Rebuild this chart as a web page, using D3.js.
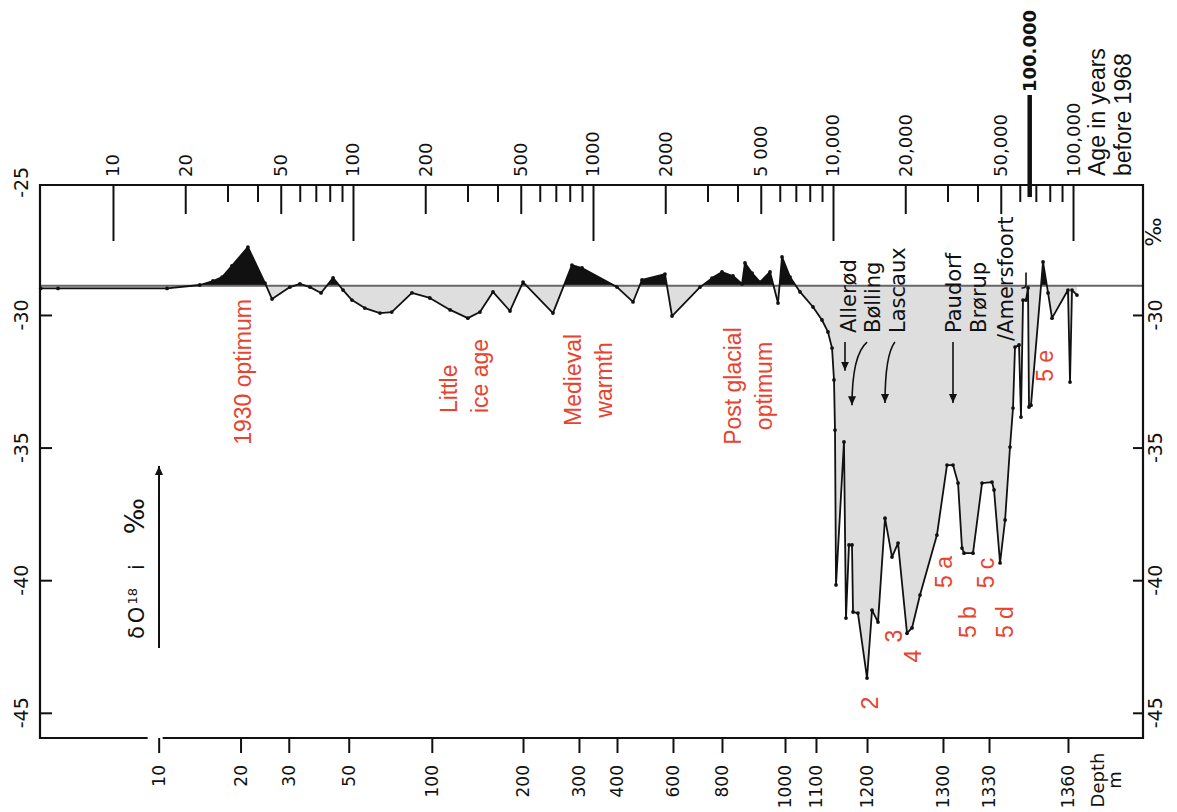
<!DOCTYPE html>
<html><head><meta charset="utf-8">
<script src="https://cdn.jsdelivr.net/npm/d3@7"></script>
<style>body{margin:0;background:#fff}svg{display:block}</style>
</head><body>
<svg id="c" width="1177" height="812"></svg>
<script>
// ---- data (age in years before 1968, delta O18 per mil) ----
const ages = [5.0,5.9,16.8,23.0,26.1,28.5,31.3,36.5,43.0,46.0,54.6,60.1,66.2,73.6,82.6,90.9,99.0,112,129.6,145,176,209,254,301,338,383,451,511,681,817,900,1259,1468,1600,1995,2134,2793,3133,3447,3831,4178,4297,4598,4966,5464,5900,6131,6622,7288,8254,8995,9528,9908,10096,10193,10292,11110,11325,11660,12000,12115,12700,13860,14540,15400,16470,17610,18660,20340,21340,23040,27100,29850,31620,33190,34470,35160,38310,41780,45960,46880,49660,52120,54640,56230,57320,59570,60700,61900,63680,64940,65560,66830,74990,78700,81750,95280,97160,99040,103900];
const d18O = [-29.0,-29.0,-29.0,-28.87,-28.72,-28.57,-28.15,-27.44,-28.8,-29.40,-28.95,-28.83,-28.95,-29.17,-28.6,-29.06,-29.44,-29.74,-29.93,-29.89,-29.17,-29.36,-29.81,-30.12,-29.89,-29.13,-29.85,-28.76,-29.93,-28.12,-28.23,-28.95,-29.51,-28.68,-28.46,-30.04,-28.95,-28.61,-28.38,-28.53,-28.83,-28.04,-28.42,-28.76,-28.38,-29.55,-27.81,-28.57,-29.13,-29.70,-30.19,-30.64,-31.25,-32.45,-34.34,-40.18,-34.79,-41.43,-38.67,-38.67,-41.20,-41.24,-43.69,-41.13,-41.58,-37.66,-39.13,-38.6,-42.0,-41.8,-40.56,-38.3,-35.66,-35.66,-36.34,-38.79,-38.98,-38.98,-36.34,-36.30,-36.6,-39.35,-37.73,-34.98,-33.51,-31.21,-31.13,-33.85,-29.44,-29.44,-28.98,-33.47,-33.4,-28.0,-29.17,-30.12,-29.06,-32.53,-29.06,-29.25];
const baselineValue = -28.9;

// ---- axes ----
const ageDecades = [10,100,1000,10000];
const ageMajorTicks = [10,100,1000,10000,100000];
const ageTickValues = [10,20,50,100,200,500,1000,2000,5000,10000,20000,50000,100000];
const ageTickText = ["10","20","50","100","200","500","1000","2000","5 000","10,000","20,000","50,000","100,000"];
const depthTicks = [10,20,30,50,100,200,300,400,600,800,1000,1100,1200,1300,1330,1360];
const depthAges = [15.5,34,54,96,213,511,874,1259,2154,3447,6310,8492,13860,28720,44670,95280];
const leftValueTicks = [-25,-30,-35,-40,-45];
const rightValueTicks = [-30,-35,-40,-45];

// ---- annotations ----
const redLabels = [
  {lines:["1930 optimum"], age:34.8, v:-32.15, anchor:"middle"},
  {lines:["Little","ice age"], age:290, v:-33.7, anchor:"start"},
  {lines:["Medieval","warmth"], age:953, v:-32.45, anchor:"middle"},
  {lines:["Post glacial","optimum"], age:4426, v:-32.68, anchor:"middle"},
  {lines:["2"], age:14260, v:-44.63, anchor:"middle"},
  {lines:["3"], age:17950, v:-42.11, anchor:"middle"},
  {lines:["4"], age:21540, v:-42.86, anchor:"middle"},
  {lines:["5 a"], age:29010, v:-39.69, anchor:"middle"},
  {lines:["5 b"], age:36520, v:-41.58, anchor:"middle"},
  {lines:["5 c"], age:43410, v:-39.73, anchor:"middle"},
  {lines:["5 d"], age:52120, v:-41.58, anchor:"middle"},
  {lines:["5 e"], age:76380, v:-31.92, anchor:"middle"}
];
const stageNames = ["Allerød","Bølling","Lascaux","Paudorf","Brørup","/Amersfoort"];
const stageAges = [11550,14540,18490,31620,40180,52120];
const stageBottom = [-30.68,-30.68,-30.68,-30.68,-30.68,-30.98];

const L=40,R=1143,T=185,B=738;
const x=d3.scaleLog().domain([4.965,195700]).range([L,R]);
const y=d3.scaleLinear().domain([-25.1,-45.95]).range([T,B]);
const svg=d3.select('#c');
const data=ages.map((a,i)=>({a,v:d18O[i]}));
const yb=y(baselineValue);

const defs=svg.append('defs');
defs.append('clipPath').attr('id','above').append('rect').attr('x',L).attr('y',T).attr('width',R-L).attr('height',yb-T);
defs.append('clipPath').attr('id','below').append('rect').attr('x',L).attr('y',yb).attr('width',R-L).attr('height',B-yb);
defs.append('marker').attr('id','ah').attr('markerUnits','userSpaceOnUse').attr('markerWidth',10).attr('markerHeight',10)
  .attr('refX',9).attr('refY',4).attr('orient','auto')
  .append('path').attr('d','M0,0 L9,4 L0,8 Z').attr('fill','#111');

const area=d3.area().x(d=>x(d.a)).y0(yb).y1(d=>y(d.v));
svg.append('path').datum(data).attr('d',area).attr('fill','#111').attr('clip-path','url(#above)');
svg.append('path').datum(data).attr('d',area).attr('fill','#dedede').attr('clip-path','url(#below)');

svg.append('line').attr('x1',L).attr('x2',R).attr('y1',yb).attr('y2',yb).attr('stroke','#666').attr('stroke-width',2);

const line=d3.line().x(d=>x(d.a)).y(d=>y(d.v));
svg.append('path').datum(data).attr('d',line).attr('fill','none').attr('stroke','#111').attr('stroke-width',1.8).attr('stroke-linejoin','round');
svg.append('g').selectAll('circle').data(data).join('circle').attr('cx',d=>x(d.a)).attr('cy',d=>y(d.v)).attr('r',1.9).attr('fill','#111');

// frame (bottom line broken near depth 10)
const gapA=x(depthAges[0])-11, gapB=x(depthAges[0])+4;
svg.append('path').attr('d',`M${gapB},${B} H${R} V${T} H${L} V${B} H${gapA}`).attr('fill','none').attr('stroke','#111').attr('stroke-width',2.2);

// top age axis ticks (inside)
const midTicks=ageDecades.flatMap(d=>[2*d,5*d]);
const minorTicks=ageDecades.flatMap(d=>[3,4,6,7,8,9].map(m=>m*d));
function topTicks(vals,len){
  const g=svg.append('g').attr('transform',`translate(0,${T})`).call(d3.axisTop(x).tickValues(vals).tickSize(-len).tickFormat(''));
  g.select('.domain').remove();
  g.selectAll('line').attr('stroke','#111').attr('stroke-width',2);
}
topTicks(ageMajorTicks,56);topTicks(midTicks,29);topTicks(minorTicks,17);
const numFont='DejaVu Sans';
svg.append('g').selectAll('text').data(ageTickValues).join('text')
  .attr('transform',d=>`translate(${x(d)},177) rotate(-90)`).attr('dy','0.36em')
  .attr('font-family',numFont).attr('font-size',18).attr('fill','#111').attr('text-anchor','start')
  .text((d,i)=>ageTickText[i]);

// bold 100.000 mark
svg.append('line').attr('x1',x(66000)).attr('x2',x(66000)).attr('y1',95).attr('y2',T+12).attr('stroke','#111').attr('stroke-width',4.5);
svg.append('text').attr('transform',`translate(${x(66000)},92) rotate(-90)`).attr('dy','0.36em')
  .attr('font-family',numFont).attr('font-weight','bold').attr('font-size',18).attr('fill','#111').text('100.000');
const ageTitle=svg.append('text').attr('font-family','Liberation Sans, Arial').attr('font-size',23).attr('fill','#111');
ageTitle.append('tspan').attr('x',0).attr('y',0).text('Age in years');
ageTitle.append('tspan').attr('x',0).attr('y',26).text('before 1968');
ageTitle.attr('transform','translate(1105,176) rotate(-90)');

// bottom depth axis
const gb=svg.append('g').attr('transform',`translate(0,${B})`).call(d3.axisBottom(x).tickValues(depthAges).tickSize(15).tickFormat(''));
gb.select('.domain').remove();
gb.selectAll('line').attr('stroke','#111').attr('stroke-width',2);
svg.append('g').selectAll('text').data(depthAges).join('text')
  .attr('transform',d=>`translate(${x(d)},765) rotate(-90)`).attr('dy','0.36em')
  .attr('font-family',numFont).attr('font-size',17).attr('fill','#111').attr('text-anchor','end')
  .text((d,i)=>depthTicks[i]);
const depthTitle=svg.append('text').attr('font-family',numFont).attr('font-size',18).attr('fill','#111').attr('text-anchor','middle')
  .attr('transform','translate(1104,780) rotate(-90)');
depthTitle.append('tspan').attr('x',0).attr('y',0).text('Depth');
depthTitle.append('tspan').attr('x',0).attr('y',17).text('m');

// left & right value axes
const gl=svg.append('g').attr('transform',`translate(${L},0)`).call(d3.axisRight(y).tickValues(rightValueTicks).tickSize(12).tickFormat(''));
gl.select('.domain').remove();gl.selectAll('line').attr('stroke','#111').attr('stroke-width',2);
const gr=svg.append('g').attr('transform',`translate(${R},0)`).call(d3.axisLeft(y).tickValues(rightValueTicks).tickSize(10).tickFormat(''));
gr.select('.domain').remove();gr.selectAll('line').attr('stroke','#111').attr('stroke-width',2);
svg.append('g').selectAll('text').data(leftValueTicks).join('text')
  .attr('transform',d=>`translate(21,${y(d)}) rotate(-90)`).attr('dy','0.36em').attr('text-anchor','middle')
  .attr('font-family',numFont).attr('font-size',19).attr('fill','#111').text(d=>d);
svg.append('g').selectAll('text').data(rightValueTicks).join('text')
  .attr('transform',d=>`translate(1155,${y(d)}) rotate(-90)`).attr('dy','0.36em').attr('text-anchor','middle')
  .attr('font-family',numFont).attr('font-size',19).attr('fill','#111').text(d=>d);
svg.append('text').attr('transform','translate(1153,232) rotate(-90)').attr('dy','0.36em').attr('text-anchor','middle')
  .attr('font-family',numFont).attr('font-size',22).attr('fill','#111').text('‰');

// delta O18 label and arrow
const dl=svg.append('text').attr('transform','translate(136,639) rotate(-90)').attr('dy','0.36em')
  .attr('font-family',numFont).attr('font-size',21).attr('fill','#111');
dl.append('tspan').text('δ');
dl.append('tspan').attr('dx',3).text('O');
dl.append('tspan').attr('font-size',13).attr('dy',-7).attr('dx',2).text('18');
dl.append('tspan').attr('dy',7).attr('dx',18).text('i');
dl.append('tspan').attr('dx',30).attr('font-size',27).text('‰');
svg.append('line').attr('x1',159).attr('x2',159).attr('y1',648).attr('y2',466).attr('stroke','#111').attr('stroke-width',2).attr('marker-end','url(#ah)');

// red annotations
const red='#e8432f';
redLabels.forEach(lb=>{
  const n=lb.lines.length, lh=31;
  const t=svg.append('text').attr('transform',`translate(${x(lb.age)},${y(lb.v)}) rotate(-90)`)
    .attr('font-family','Liberation Sans, Arial').attr('font-size',23).attr('fill',red).attr('text-anchor',lb.anchor);
  lb.lines.forEach((s,i)=>t.append('tspan').attr('x',0).attr('y',(i-(n-1)/2)*lh).attr('dy','0.36em').text(s));
});

// stage names with arrows
stageNames.forEach((s,i)=>{
  svg.append('text').attr('transform',`translate(${x(stageAges[i])},${y(stageBottom[i])}) rotate(-90)`).attr('dy','0.36em')
    .attr('font-family',numFont).attr('font-size',21).attr('fill','#111').text(s);
});
const arrows=[
  `M${x(11220)},${y(-31.02)} V${y(-32.1)}`,
  `M${x(13860)},${y(-31.02)} Q${x(12000)},${y(-31.5)} ${x(12000)},${y(-33.4)}`,
  `M${x(18110)},${y(-31.02)} Q${x(16470)},${y(-31.5)} ${x(16470)},${y(-33.32)}`,
  `M${x(31620)},${y(-31.02)} V${y(-33.32)}`
];
svg.append('g').selectAll('path').data(arrows).join('path').attr('d',d=>d).attr('fill','none')
  .attr('stroke','#111').attr('stroke-width',1.6).attr('marker-end','url(#ah)');
svg.append('path').attr('d',`M${x(63700)},${y(-28.4)} V${y(-28.85)} Q${x(63700)},${y(-29.0)} ${x(61000)},${y(-28.98)}`)
  .attr('fill','none').attr('stroke','#111').attr('stroke-width',1.6);
</script>
</body></html>
